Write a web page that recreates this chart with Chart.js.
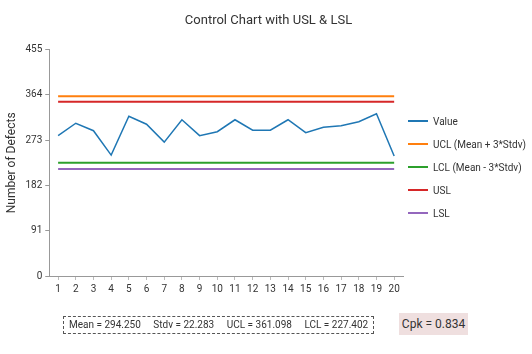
<!DOCTYPE html>
<html>
<head>
<meta charset="utf-8">
<script src="https://cdn.jsdelivr.net/npm/chart.js@4/dist/chart.umd.min.js"></script>
<style>
    body { margin: 0; background: #fff; font-family: Roboto, sans-serif; }
    .wrap { position: relative; width: 532px; height: 354px; }
    .legend { position: absolute; left: 408px; top: 114px; font-size: 10px; color: #333; }
    .legend-item { height: 23px; line-height: 16px; white-space: nowrap; }
    .legend-item i { display: inline-block; width: 20px; height: 2px; vertical-align: middle; margin-right: 5px; position: relative; top: -1px; }
    .stats-box {
        position: absolute; left: 63px; top: 316px; width: 304px; height: 16px;
        border: 1px dashed #555; font-size: 10px; color: #333; line-height: 16px;
        white-space: nowrap; padding-left: 5px;
    }
    .stats-box span { margin-right: 12.5px; }
    .cpk-box {
        position: absolute; left: 399px; top: 313px; width: 69px; height: 22px;
        background: #efdfdf; font-size: 12px; color: #333; line-height: 22px; text-align: center;
    }
</style>
</head>
<body>
<div class="wrap">
    <canvas id="chart" width="532" height="354"></canvas>
    <div class="legend" id="legend"></div>
    <div class="stats-box">
        <span>Mean = 294.250</span><span>Stdv = 22.283</span><span>UCL = 361.098</span><span>LCL = 227.402</span>
    </div>
    <div class="cpk-box">Cpk = 0.834</div>
</div>
<script>
// sample numbers along the x axis
const samples = ['1', '2', '3', '4', '5', '6', '7', '8', '9', '10',
                 '11', '12', '13', '14', '15', '16', '17', '18', '19', '20'];

// defects per sample
const values = [282, 307, 292, 243, 321, 305, 269, 314, 282, 290,
                314, 293, 293, 314, 288, 299, 302, 310, 326, 241];

// control / spec limits
const ucl = 361.098;
const lcl = 227.402;
const usl = 350;
const lsl = 215;

const yTicks = [0, 91, 182, 273, 364, 455];

const flat = v => samples.map(() => v);

const limitLine = (label, v, color) => ({
    label: label,
    data: flat(v),
    borderColor: color,
    backgroundColor: color,
    borderWidth: 2,
    pointRadius: 0,
    tension: 0
});

const ctx = document.getElementById('chart').getContext('2d');
const chart = new Chart(ctx, {
    type: 'line',
    data: {
        labels: samples,
        datasets: [
            {
                label: 'Value',
                data: values,
                borderColor: '#1f77b4',
                backgroundColor: '#1f77b4',
                borderWidth: 1.5,
                pointRadius: 0,
                tension: 0
            },
            limitLine('UCL (Mean + 3*Stdv)', ucl, '#ff7f0e'),
            limitLine('LCL (Mean - 3*Stdv)', lcl, '#2ca02c'),
            limitLine('USL', usl, '#d62728'),
            limitLine('LSL', lsl, '#9467bd')
        ]
    },
    options: {
        responsive: false,
        animation: false,
        layout: { padding: { left: 5, right: 0, bottom: 56 } },
        plugins: {
            title: {
                display: true,
                text: 'Control Chart with USL & LSL',
                color: '#333',
                font: { family: 'Roboto', size: 13, weight: 'normal' },
                padding: { top: 13, bottom: 21 }
            },
            legend: { display: false },
            tooltip: { enabled: false }
        },
        scales: {
            x: {
                offset: true,
                grid: { display: true, drawOnChartArea: false, tickLength: 4, color: '#bbb' },
                border: { color: '#999' },
                ticks: { color: '#333', font: { family: 'Roboto', size: 10 }, maxRotation: 0, autoSkip: false }
            },
            y: {
                min: 0,
                max: 455,
                afterBuildTicks: axis => { axis.ticks = yTicks.map(v => ({ value: v })); },
                grid: { display: true, drawOnChartArea: false, tickLength: 4, color: '#999' },
                border: { color: '#999' },
                ticks: { color: '#333', font: { family: 'Roboto', size: 10 } },
                title: {
                    display: true,
                    text: 'Number of Defects',
                    color: '#333',
                    font: { family: 'Roboto', size: 12 },
                    padding: { top: 0, bottom: 3 }
                }
            },
            // empty right-hand axis keeps room for the legend column
            gutter: {
                position: 'right',
                display: true,
                grid: { display: false },
                border: { display: false },
                ticks: { display: false },
                afterFit: axis => { axis.width = 129; }
            }
        }
    }
});

// legend built from the chart's own datasets
document.getElementById('legend').innerHTML = chart.data.datasets.map(ds => `
    <div class="legend-item"><i style="background:${ds.borderColor}"></i>${ds.label}</div>
`).join('');
</script>
</body>
</html>
